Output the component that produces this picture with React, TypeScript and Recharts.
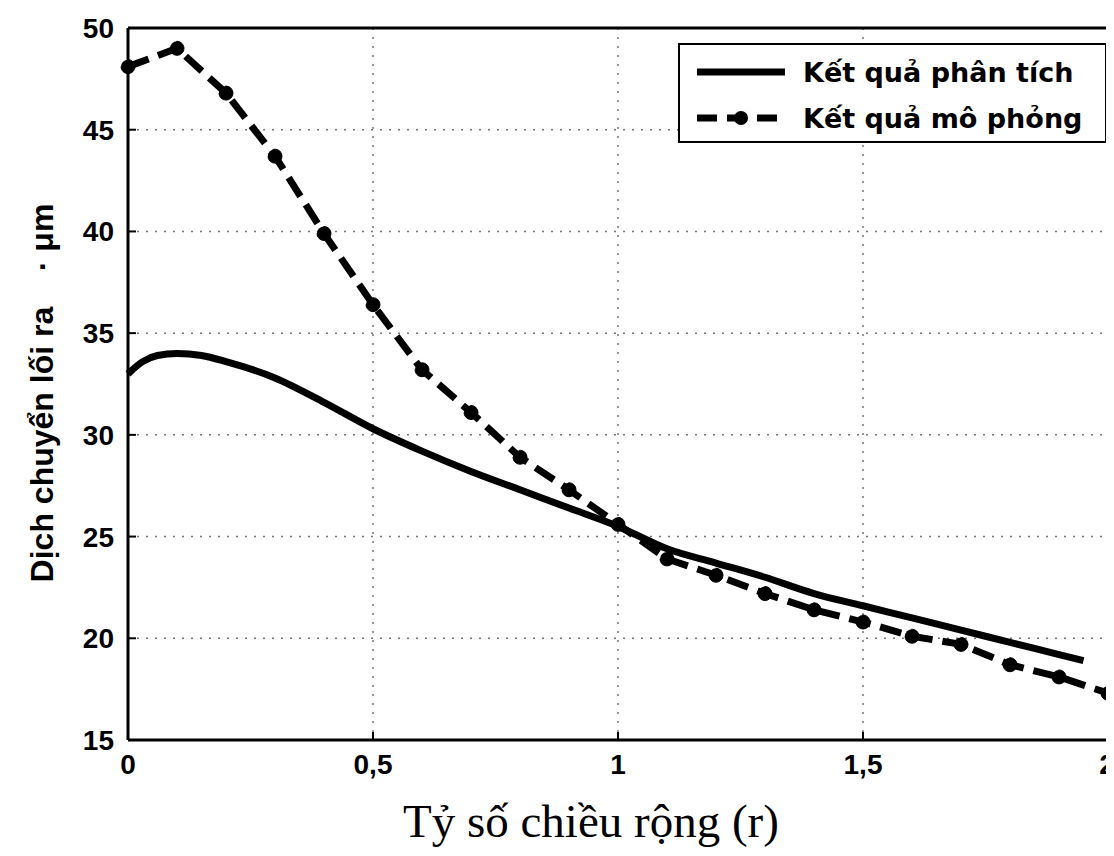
import React from 'react';
import { LineChart, Line, XAxis, YAxis, CartesianGrid, ReferenceLine } from 'recharts';

// Kết quả mô phỏng (markers every 0.1)
const simX = [0, 0.1, 0.2, 0.3, 0.4, 0.5, 0.6, 0.7, 0.8, 0.9, 1.0, 1.1, 1.2, 1.3, 1.4, 1.5, 1.6, 1.7, 1.8, 1.9, 2.0];
const simY = [48.1, 49.0, 46.8, 43.7, 39.9, 36.4, 33.2, 31.1, 28.9, 27.3, 25.6, 23.9, 23.1, 22.2, 21.4, 20.8, 20.1, 19.7, 18.7, 18.1, 17.3];

// Kết quả phân tích (smooth curve)
const anaX = [0, 0.03, 0.06, 0.1, 0.15, 0.2, 0.3, 0.4, 0.5, 0.6, 0.7, 0.8, 0.9, 1.0, 1.1, 1.2, 1.3, 1.4, 1.5, 1.6, 1.7, 1.8, 1.9, 1.95];
const anaY = [33.0, 33.6, 33.9, 34.0, 33.9, 33.6, 32.8, 31.6, 30.3, 29.2, 28.2, 27.3, 26.4, 25.5, 24.4, 23.7, 23.0, 22.2, 21.6, 21.0, 20.4, 19.8, 19.2, 18.9];

const xTicks = [0, 0.5, 1, 1.5, 2];
const yTicks = [15, 20, 25, 30, 35, 40, 45, 50];

const seriesNames = ['Kết quả phân tích', 'Kết quả mô phỏng'];

const simData = simX.map((x, i) => ({ x, y: simY[i] }));
const anaData = anaX.map((x, i) => ({ x, y: anaY[i] }));

const sans = '"Liberation Sans", Arial, sans-serif';
const tickFont = { fontFamily: sans, fontWeight: 700, fontSize: 28, fill: '#000' };

const LegendBox = () => (
  <div
    style={{
      position: 'absolute',
      left: 670,
      top: 35,
      width: 429,
      height: 100,
      border: '2px solid #000',
      background: '#fff',
      padding: '4px 0 0 17px',
      boxSizing: 'border-box',
    }}
  >
    {seriesNames.map((name, i) => (
      <div key={name} style={{ display: 'flex', alignItems: 'center', height: 46 }}>
        <svg width={90} height={20}>
          {i === 0 ? (
            <line x1={0} y1={10} x2={88} y2={10} stroke="#000" strokeWidth={7} />
          ) : (
            <g>
              <line x1={0} y1={10} x2={88} y2={10} stroke="#000" strokeWidth={7} strokeDasharray="20 10" />
              <circle cx={44} cy={10} r={7} fill="#000" />
            </g>
          )}
        </svg>
        <span style={{ marginLeft: 16, fontFamily: '"DejaVu Sans", sans-serif', fontWeight: 700, fontSize: 27, color: '#000' }}>
          {name}
        </span>
      </div>
    ))}
  </div>
);

export default function App() {
  return (
    <div style={{ position: 'relative', width: 1106, height: 848, background: '#fff' }}>
      <LineChart width={1106} height={848} margin={{ top: 20, right: 6, bottom: 0, left: 0 }}>
        <CartesianGrid xAxisId="b" yAxisId="l" stroke="#777" strokeDasharray="2 7" strokeWidth={1.5} />
        <XAxis
          xAxisId="b"
          type="number"
          dataKey="x"
          domain={[0, 2]}
          ticks={xTicks}
          height={116}
          tickSize={-8}
          tickMargin={22}
          tickFormatter={(v) => String(v).replace('.', ',')}
          tick={tickFont}
          stroke="#000"
          axisLine={{ stroke: '#000', strokeWidth: 3 }}
          tickLine={{ stroke: '#000', strokeWidth: 2 }}
          label={{
            content: () => (
              <text x={395} y={829} textAnchor="start" style={{ fontFamily: '"Liberation Serif", "Times New Roman", serif', fontSize: 47, fill: '#000' }}>
                Tỷ số chiều rộng (r)
              </text>
            ),
          }}
        />
        <YAxis
          yAxisId="l"
          type="number"
          domain={[15, 50]}
          ticks={yTicks}
          width={120}
          tickSize={-8}
          tickMargin={22}
          tick={tickFont}
          axisLine={{ stroke: '#000', strokeWidth: 3 }}
          tickLine={{ stroke: '#000', strokeWidth: 2 }}
          label={{
            content: () => (
              <text
                x={45}
                y={385}
                textAnchor="middle"
                transform="rotate(-90 45 385)"
                style={{ fontFamily: sans, fontWeight: 700, fontSize: 32, fill: '#000' }}
              >
                {'Dịch chuyển lối ra\u00a0\u00a0\u00a0\u00a0·\u00a0μm'}
              </text>
            ),
          }}
        />
        {/* box frame (top and right edges) */}
        <ReferenceLine xAxisId="b" yAxisId="l" y={50} stroke="#000" strokeWidth={3} />
        <ReferenceLine xAxisId="b" yAxisId="l" x={2} stroke="#000" strokeWidth={3} />
        <Line
          xAxisId="b"
          yAxisId="l"
          data={anaData}
          dataKey="y"
          name={seriesNames[0]}
          type="monotone"
          stroke="#000"
          strokeWidth={7}
          dot={false}
          isAnimationActive={false}
        />
        <Line
          xAxisId="b"
          yAxisId="l"
          data={simData}
          dataKey="y"
          name={seriesNames[1]}
          type="linear"
          stroke="#000"
          strokeWidth={7}
          strokeDasharray="22 10"
          dot={{ r: 7, fill: '#000', stroke: '#000', strokeWidth: 1 }}
          isAnimationActive={false}
        />
      </LineChart>
      <LegendBox />
    </div>
  );
}
